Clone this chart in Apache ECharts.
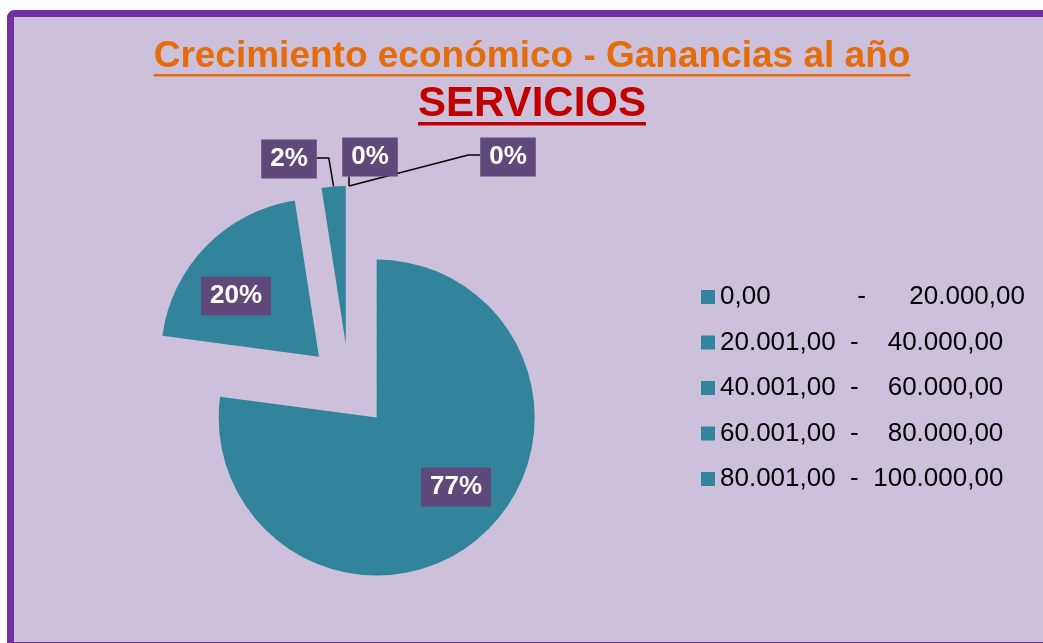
<!DOCTYPE html>
<html>
<head>
<meta charset="utf-8">
<script src="https://cdn.jsdelivr.net/npm/echarts@6/dist/echarts.min.js"></script>
<style>
  html, body { margin: 0; padding: 0; background: #fff; }
  #chart { width: 1043px; height: 643px; }
</style>
</head>
<body>
<div id="chart"></div>
<script>
/* ---------------- Data ---------------- */
const categories = [
  "0,00            -      20.000,00",
  "20.001,00  -    40.000,00",
  "40.001,00  -    60.000,00",
  "60.001,00  -    80.000,00",
  "80.001,00  -  100.000,00"
];
const shares = [77.1, 20.45, 2.45, 0, 0];
const titleText = "Crecimiento económico - Ganancias al año";
const subTitleText = "SERVICIOS";

/* ---------------- Layout ---------------- */
const FONT = '"Liberation Sans", Arial, sans-serif';
const TEAL = "#31849B";
const PIE_CENTER = [349, 386];
const PIE_RADIUS = 158;
const EXPLODE = 42;
// centre of each data label box
const labelSpots = [[456, 487], [236, 296], [289, 159], [370, 157], [508, 157]];

const total = shares.reduce((a, b) => a + b, 0);

const measure = (text, font) => {
  const ctx = document.createElement("canvas").getContext("2d");
  ctx.font = font;
  return ctx.measureText(text).width;
};

const labelStyle = {
  formatter: p => Math.round((p.value / total) * 100) + "%",
  color: "#fff",
  fontWeight: "bold",
  fontSize: 26,
  fontFamily: FONT,
  lineHeight: 27,
  backgroundColor: "#5F497A",
  padding: [6, 9]
};

function layoutLabel(p, i) {
  if (p.dataIndex !== i) return {};
  const [tx, ty] = labelSpots[i];
  const r = p.labelRect;
  let x = tx, y = ty;
  if (p.align === "left") x = tx - r.width / 2;
  else if (p.align === "right") x = tx + r.width / 2;
  if (p.verticalAlign === "top") y = ty - r.height / 2;
  else if (p.verticalAlign === "bottom") y = ty + r.height / 2;
  const out = { x, y };
  const pts = p.labelLinePoints;
  if (pts && pts.length) {
    const p0 = pts[0];
    const left = tx - r.width / 2, right = tx + r.width / 2, bottom = ty + r.height / 2;
    if (i === 2) out.labelLinePoints = [p0, [right + 12, ty - 1], [right, ty - 1]];
    else if (i === 3) out.labelLinePoints = [p0, [p0[0], bottom], [p0[0], bottom]];
    else out.labelLinePoints = [p0, [left - 12, ty - 2], [left, ty - 2]];
  }
  return out;
}

/* one pie per slice so each slice can be pulled out along its own mid angle */
let acc = 0;
const series = shares.map((v, i) => {
  const mid = ((acc + v / 2) / total) * 2 * Math.PI;
  acc += v;
  const outside = i >= 2;
  return {
    type: "pie",
    center: [PIE_CENTER[0] + EXPLODE * Math.sin(mid), PIE_CENTER[1] - EXPLODE * Math.cos(mid)],
    radius: PIE_RADIUS,
    startAngle: 90,
    clockwise: true,
    minAngle: 0,
    silent: true,
    avoidLabelOverlap: false,
    itemStyle: { borderWidth: 0 },
    label: { show: false },
    labelLine: { show: false },
    data: shares.map((w, j) => ({
      name: categories[j],
      value: w,
      itemStyle: { color: j === i ? TEAL : "rgba(0,0,0,0)", borderWidth: 0 },
      label: j === i
        ? Object.assign({ show: true, position: outside ? "outside" : "inside" }, labelStyle)
        : { show: false },
      labelLine: {
        show: j === i && outside,
        length: 10,
        length2: 10,
        lineStyle: { color: "#000", width: 1.5 }
      }
    })),
    labelLayout: p => layoutLabel(p, i)
  };
});

const titleFont = `bold 37px ${FONT}`;
const subFont = `bold 42px ${FONT}`;
const titleW = measure(titleText, titleFont);
const subW = measure(subTitleText, subFont);
const TITLE_X = 532;

const chart = echarts.init(document.getElementById("chart"));
chart.setOption({
  animation: false,
  backgroundColor: "#fff",
  graphic: [
    {
      type: "rect", z: -10, silent: true,
      shape: { x: 10.5, y: 13.5, width: 1062, height: 632, r: 4 },
      style: { fill: "#CCC0DA", stroke: "#7030A0", lineWidth: 7 }
    },
    {
      type: "text", x: TITLE_X, y: 57,
      style: { text: titleText, font: titleFont, fill: "#E46C0A", align: "center", verticalAlign: "middle" }
    },
    {
      type: "rect", shape: { x: TITLE_X - titleW / 2, y: 74, width: titleW, height: 2.5 },
      style: { fill: "#E46C0A" }
    },
    {
      type: "text", x: TITLE_X, y: 104,
      style: { text: subTitleText, font: subFont, fill: "#C00000", align: "center", verticalAlign: "middle" }
    },
    {
      type: "rect", shape: { x: TITLE_X - subW / 2, y: 122, width: subW, height: 3.5 },
      style: { fill: "#C00000" }
    }
  ],
  legend: {
    orient: "vertical",
    left: 701,
    top: 284,
    padding: 0,
    itemWidth: 14,
    itemHeight: 14,
    itemGap: 19.5,
    icon: "rect",
    selectedMode: false,
    data: categories.map(n => ({ name: n, itemStyle: { color: TEAL } })),
    textStyle: { fontSize: 26, fontFamily: FONT, color: "#000", lineHeight: 26 }
  },
  series
});
</script>
</body>
</html>
